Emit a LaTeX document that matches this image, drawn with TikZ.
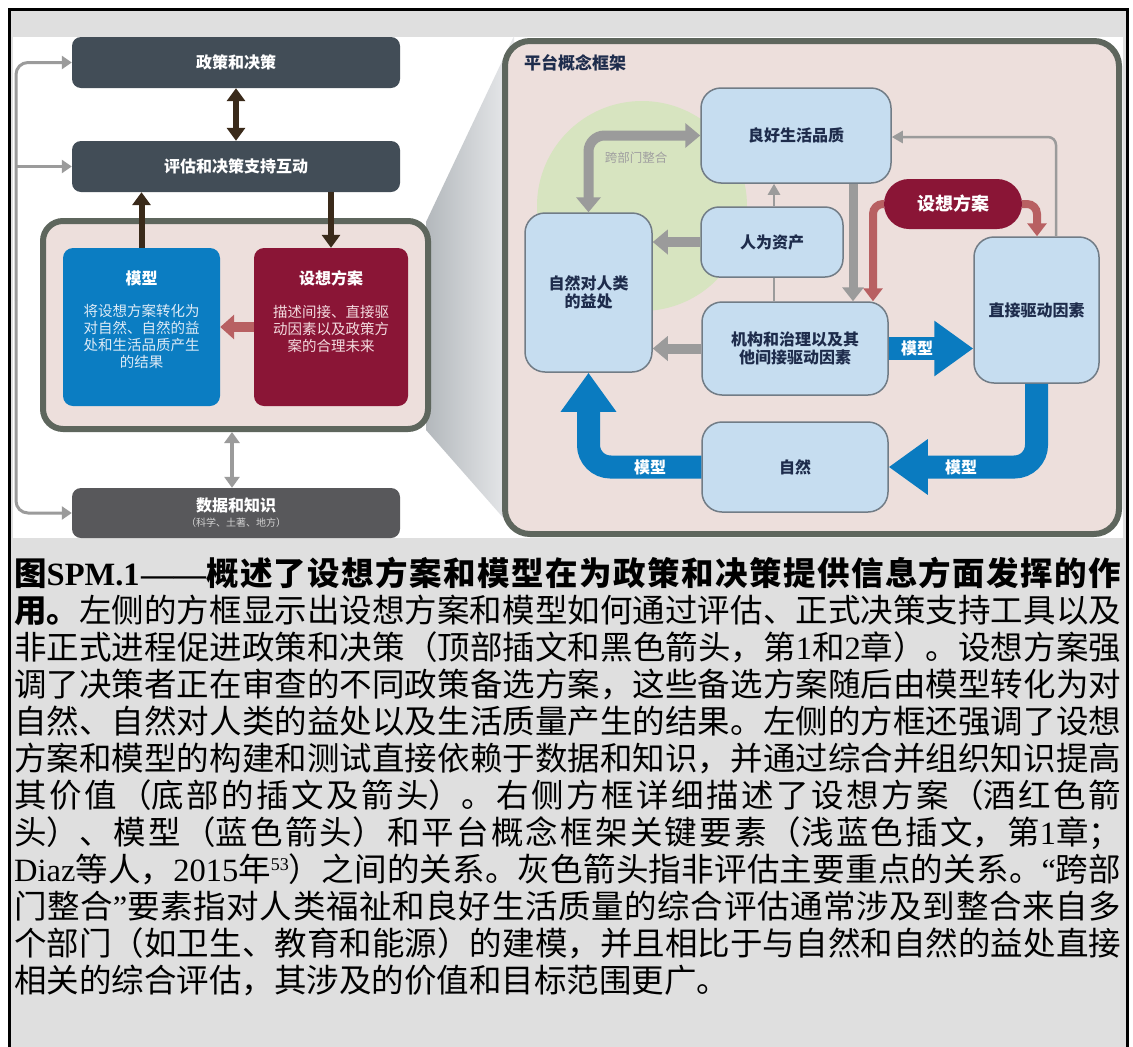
\documentclass[tikz,border=0pt]{standalone}
\usepackage{fontspec}
\setmainfont{Noto Sans CJK SC}
\newfontfamily\lat{Liberation Serif}
\usetikzlibrary{arrows.meta}
\XeTeXlinebreaklocale "zh"
\XeTeXlinebreakskip=0pt plus 6pt minus 0.5pt
\newcommand\myfs[2]{\fontsize{#1}{#2}\selectfont}

\definecolor{bggray}{HTML}{DFDFDF}
\definecolor{slate}{HTML}{424D57}
\definecolor{datagray}{HTML}{58585B}
\definecolor{brownar}{HTML}{3A2A1A}
\definecolor{lgray}{HTML}{9B9B9B}
\definecolor{framegray}{HTML}{5E665D}
\definecolor{pinkfill}{HTML}{EDDFDC}
\definecolor{modblue}{HTML}{0B7DC2}
\definecolor{crimson}{HTML}{8A1536}
\definecolor{pinkar}{HTML}{B86062}
\definecolor{lblue}{HTML}{C6DDF0}
\definecolor{lborder}{HTML}{717C86}
\definecolor{lgreen}{HTML}{D7E4C0}
\definecolor{arblue}{HTML}{0A7BC0}
\definecolor{navy}{HTML}{1E2C4C}
\definecolor{wedgeL}{HTML}{B3B8BC}
\definecolor{wedgeR}{HTML}{EAEBED}
\definecolor{modtext}{HTML}{DCEAF6}
\definecolor{scentext}{HTML}{F3DADF}
\definecolor{subtext}{HTML}{D2D2D2}
\definecolor{xbtext}{HTML}{A09FA0}

\tikzset{
  darkbox/.style={fill=slate, rounded corners=9, minimum width=328, minimum height=51, inner sep=0, text=white, font=\myfs{16}{19}\bfseries},
  framebox/.style={draw=framegray, line width=6, fill=pinkfill, inner sep=0},
  colbox/.style={rounded corners=10, minimum height=158, inner sep=0},
  lbox/.style={draw=lborder, line width=1.5, fill=lblue, rounded corners=20, inner sep=0, text=navy, font=\myfs{16}{18.5}\bfseries, align=center},
  brownA/.style={brownar, line width=6},
  btip/.tip={Triangle[width=18pt,length=13pt]},
  gthick/.style={lgray, line width=10},
  gtip/.tip={Triangle[width=24pt,length=15pt]},
  gthin/.style={lgray, line width=2.5},
  ttip/.tip={Triangle[width=12pt,length=11pt]},
  ltip/.tip={Triangle[width=13pt,length=10pt]},
  redA/.style={pinkar, line width=8, rounded corners=10},
  rtip/.tip={Triangle[width=19pt,length=13pt]},
  blueA/.style={arblue, line width=23, rounded corners=22},
  bltip/.tip={Triangle[width=53pt,length=39pt]},
  modlbl/.style={text=white, font=\myfs{16}{18}\bfseries, inner sep=0},
}

\begin{document}
\begin{tikzpicture}[x=1pt,y=-1pt]
\useasboundingbox (0,0) rectangle (1133,1047);
\fill[white] (0,0) rectangle (1133,1047);
\fill[bggray] (9,9) rectangle (1127,1047);
\fill[white] (13,37) rectangle (1123,538);
\draw[black, line width=3] (9,1047) -- (9,9) -- (1127,9) -- (1127,1047);

% zoom wedge
\shade[left color=wedgeL, right color=wedgeR] (426,222) -- (514,36) -- (514,530) -- (426,430) -- cycle;

% ---------- left panel ----------
\node[darkbox] (pol) at (236,62.5) {政策和决策};
\node[darkbox] (ass) at (236,166.5) {评估和决策支持互动};
\node[framebox, rounded corners=20, minimum width=385, minimum height=208] (lfr) at (235.5,325) {};
\node[colbox, fill=modblue, minimum width=157] (mod) at (141.5,327) {};
\node[colbox, fill=crimson, minimum width=154] (scen) at (331,327) {};
\node[text=white, font=\myfs{16}{19}\bfseries, inner sep=0] (modT) at (141.5,278) {模型};
\node[text=modtext, font=\myfs{14.5}{17}, align=center, inner sep=0] (modB) at (141.5,336) {将设想方案转化为\\对自然、自然的益\\处和生活品质产生\\的结果};
\node[text=white, font=\myfs{16}{19}\bfseries, inner sep=0] (scenT) at (331,278) {设想方案};
\node[text=scentext, font=\myfs{14.5}{17}, align=center, inner sep=0] (scenB) at (331,329) {描述间接、直接驱\\动因素以及政策方\\案的合理未来};
\node[darkbox, fill=datagray, minimum height=50] (data) at (236,513) {};
\node[text=white, font=\myfs{16}{19}\bfseries, inner sep=0] (dataT) at (236,505) {数据和知识};
\node[text=subtext, font=\myfs{10}{12}, inner sep=0] (dataS) at (236,523) {（科学、土著、地方）};

\draw[brownA, btip-btip] (pol.south) -- (ass.north);
\draw[brownA, -btip] (mod.north) -- (mod.north |- ass.south);
\draw[brownA, -btip] (ass.south -| scen.north) -- (scen.north);
\draw[pinkar, line width=10, -{Triangle[width=24pt,length=14pt]}] (scen.west) -- (mod.east);
\coordinate (dx) at (232,0);
\draw[lgray, line width=4, {Triangle[width=15pt,length=11pt]}-{Triangle[width=15pt,length=11pt]}] (lfr.south -| dx) -- (data.north -| dx);

\coordinate (lcA) at (16,300);
\draw[lgray, line width=3, rounded corners=12, -ltip] (lcA) |- (pol.west);
\draw[lgray, line width=3, rounded corners=12, -ltip] (lcA) |- (data.west);
\draw[lgray, line width=3, -ltip] (lcA |- ass.west) -- (ass.west);

% ---------- right panel ----------
\node[framebox, rounded corners=25, minimum width=614, minimum height=493] (rfr) at (812,287.5) {};
\node[circle, fill=lgreen, minimum size=210, inner sep=0] (cir) at (642,206) {};
\node[anchor=west, text=navy, font=\myfs{17}{20}\bfseries, inner sep=0] (rtitle) at (524,63) {平台概念框架};
\node[text=xbtext, font=\myfs{12.5}{15}, inner sep=0] (xb) at (636,158) {跨部门整合};

\node[lbox, minimum width=190, minimum height=95] (good) at (796,135.5) {良好生活品质};
\node[lbox, minimum width=127, minimum height=159] (nb) at (588.5,292.5) {自然对人类\\的益处};
\node[lbox, rounded corners=18, minimum width=142, minimum height=70] (ha) at (772,242) {人为资产};
\node[lbox, minimum width=186, minimum height=93] (inst) at (795,348.5) {机构和治理以及其\\他间接驱动因素};
\node[lbox, minimum width=125, minimum height=146] (dd) at (1036.5,310) {直接驱动因素};
\node[lbox, minimum width=186, minimum height=90] (nat) at (795,467) {自然};
\node[fill=crimson, rounded corners=25, minimum width=138, minimum height=50, inner sep=0, text=white, font=\myfs{18}{20}\bfseries] (pill) at (953,204) {设想方案};

% gray connectors
\draw[gthick, rounded corners=16, gtip-gtip] (good.west) -| (nb.north);
\draw[gthick, -gtip] (ha.west) -- (ha.west -| nb.east);
\draw[gthick, -gtip] (inst.west) -- (inst.west -| nb.east);
\coordinate (gx) at (853,0);
\draw[lgray, line width=9, -{Triangle[width=21pt,length=14pt]}] (good.south -| gx) -- (inst.north -| gx);
\coordinate (tx) at (774,0);
\draw[gthin, -ttip] (ha.north -| tx) -- (good.south -| tx);
\draw[gthin] (ha.south -| tx) -- (inst.north -| tx);
\coordinate (ty) at (1056,137);
\draw[gthin, rounded corners=8, -ttip] (dd.north -| ty) -- (ty) -- (good.east |- ty);

% scenario arrows
\coordinate (rx) at (873,0);
\coordinate (ry) at (1037,0);
\draw[redA, -rtip] (pill.west) -| (inst.north -| rx);
\draw[redA, -rtip] (pill.east) -| (dd.north -| ry);

% model arrows
\draw[blueA, -bltip] (inst.east) -- (inst.east -| dd.west);
\node[modlbl] (m1) at (917,348.5) {模型};
\draw[blueA, -bltip] (dd.south) |- (nat.east);
\node[modlbl] (m2) at (961,467) {模型};
\draw[blueA, -bltip] (nat.west) -| (nb.south);
\node[modlbl] (m3) at (650,467) {模型};

% ---------- caption ----------
\node[anchor=north west, inner sep=0, text width=1107pt, align=justify, font=\myfs{32.5}{37}] (cap) at (14,557) {%
{\bfseries 图{\lat SPM.1——}概述了设想方案和模型在为政策和决策提供信息方面发挥的作\linebreak
用。}左侧的方框显示出设想方案和模型如何通过评估、正式决策支持工具以及\linebreak
非正式进程促进政策和决策（顶部插文和黑色箭头，第{\lat 1}和{\lat 2}章）。设想方案强\linebreak
调了决策者正在审查的不同政策备选方案，这些备选方案随后由模型转化为对\linebreak
自然、自然对人类的益处以及生活质量产生的结果。左侧的方框还强调了设想\linebreak
方案和模型的构建和测试直接依赖于数据和知识，并通过综合并组织知识提高\linebreak
其价值（底部的插文及箭头）。右侧方框详细描述了设想方案（酒红色箭\linebreak
头）、模型（蓝色箭头）和平台概念框架关键要素（浅蓝色插文，第{\lat 1}章；\linebreak
{\lat Diaz}等人，{\lat 2015}年{\lat\raisebox{11pt}{\myfs{18}{18}53}}）之间的关系。灰色箭头指非评估主要重点的关系。{\lat “}跨部\linebreak
门整合{\lat ”}要素指对人类福祉和良好生活质量的综合评估通常涉及到整合来自多\linebreak
个部门（如卫生、教育和能源）的建模，并且相比于与自然和自然的益处直接\linebreak
相关的综合评估，其涉及的价值和目标范围更广。};
\end{tikzpicture}
\end{document}
